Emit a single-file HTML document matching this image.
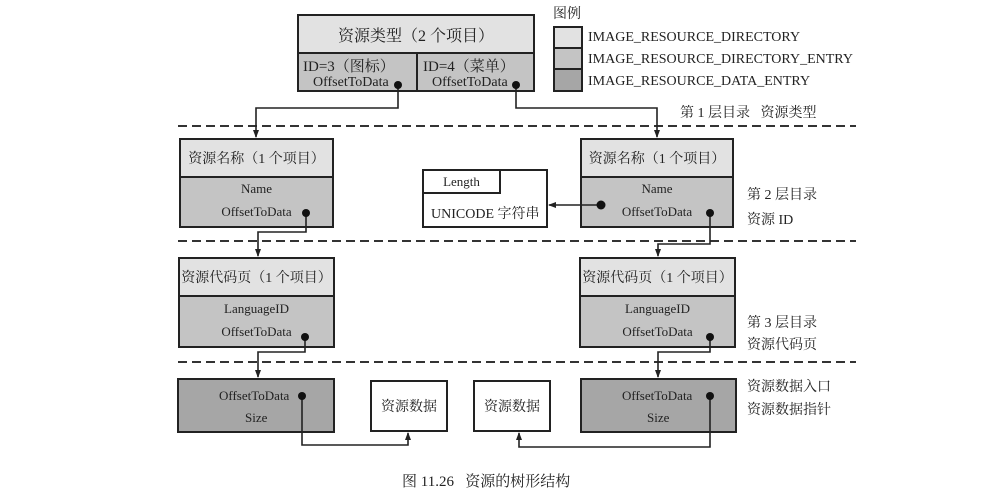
<!DOCTYPE html>
<html><head><meta charset="utf-8"><style>
body{margin:0;background:#fff;}
#c{position:relative;width:1008px;height:500px;overflow:hidden;font-family:"Liberation Serif","Noto Serif CJK SC",serif;color:#222;}
.b{position:absolute;box-sizing:border-box;border:2px solid #222;}
.h{background:#e2e2e2;}
.e{background:#c4c4c4;}
.d{background:#a6a6a6;}
.w{background:#fff;}
.t{position:absolute;white-space:nowrap;}
.cn{display:flex;align-items:center;justify-content:center;font-size:14px;}
</style></head><body><div id="c">
<svg width="1008" height="500" style="position:absolute;left:0;top:0">
<g stroke="#333" stroke-width="2" stroke-dasharray="9,5"><line x1="178" y1="126" x2="856" y2="126"/><line x1="178" y1="241" x2="856" y2="241"/><line x1="178" y1="362" x2="856" y2="362"/></g>
</svg>
<!-- top box -->
<div class="b h cn" style="left:297px;top:14px;width:238px;height:40px;font-size:16px;">资源类型（2 个项目）</div>
<div class="b e" style="left:297px;top:52px;width:121px;height:40px;"></div>
<div class="b e" style="left:416px;top:52px;width:119px;height:40px;"></div>
<div class="t" style="left:303px;top:55px;font-size:15px;">ID=3（图标）</div>
<div class="t" style="left:423px;top:55px;font-size:15px;">ID=4（菜单）</div>
<div class="t" style="left:313px;top:75px;font-size:14px;">OffsetToData</div>
<div class="t" style="left:432px;top:75px;font-size:14px;">OffsetToData</div>
<!-- legend -->
<div class="t" style="left:553px;top:3px;font-size:14px;">图例</div>
<div class="b h" style="left:553px;top:26px;width:30px;height:23px;"></div>
<div class="b e" style="left:553px;top:47px;width:30px;height:23px;"></div>
<div class="b d" style="left:553px;top:68px;width:30px;height:24px;"></div>
<div class="t" style="left:588px;top:30px;font-size:14px;">IMAGE_RESOURCE_DIRECTORY</div>
<div class="t" style="left:588px;top:52px;font-size:14px;">IMAGE_RESOURCE_DIRECTORY_ENTRY</div>
<div class="t" style="left:588px;top:74px;font-size:14px;">IMAGE_RESOURCE_DATA_ENTRY</div>
<!-- layer labels -->
<div class="t" style="left:680px;top:102px;font-size:14px;">第 1 层目录&nbsp;&nbsp;&nbsp;资源类型</div>
<div class="t" style="left:747px;top:184px;font-size:14px;">第 2 层目录</div>
<div class="t" style="left:747px;top:209px;font-size:14px;">资源 ID</div>
<div class="t" style="left:747px;top:312px;font-size:14px;">第 3 层目录</div>
<div class="t" style="left:747px;top:334px;font-size:14px;">资源代码页</div>
<div class="t" style="left:747px;top:376px;font-size:14px;">资源数据入口</div>
<div class="t" style="left:747px;top:399px;font-size:14px;">资源数据指针</div>
<!-- level2 -->
<div class="b h cn" style="left:179px;top:138px;width:155px;height:40px;font-size:14px;">资源名称（1 个项目）</div>
<div class="b e" style="left:179px;top:176px;width:155px;height:52px;"></div>
<div class="t" style="left:179px;top:181px;width:155px;text-align:center;font-size:13px;">Name</div>
<div class="t" style="left:179px;top:204px;width:155px;text-align:center;font-size:13px;">OffsetToData</div>
<div class="b h cn" style="left:580px;top:138px;width:154px;height:40px;font-size:14px;">资源名称（1 个项目）</div>
<div class="b e" style="left:580px;top:176px;width:154px;height:52px;"></div>
<div class="t" style="left:580px;top:181px;width:154px;text-align:center;font-size:13px;">Name</div>
<div class="t" style="left:580px;top:204px;width:154px;text-align:center;font-size:13px;">OffsetToData</div>
<div class="b w" style="left:422px;top:169px;width:126px;height:59px;"></div>
<div class="b w cn" style="left:422px;top:169px;width:79px;height:25px;font-size:13px;">Length</div>
<div class="t" style="left:431px;top:203px;font-size:14px;">UNICODE 字符串</div>
<!-- level3 -->
<div class="b h cn" style="left:178px;top:257px;width:157px;height:40px;font-size:14px;">资源代码页（1 个项目）</div>
<div class="b e" style="left:178px;top:295px;width:157px;height:53px;"></div>
<div class="t" style="left:178px;top:301px;width:157px;text-align:center;font-size:13px;">LanguageID</div>
<div class="t" style="left:178px;top:324px;width:157px;text-align:center;font-size:13px;">OffsetToData</div>
<div class="b h cn" style="left:579px;top:257px;width:157px;height:40px;font-size:14px;">资源代码页（1 个项目）</div>
<div class="b e" style="left:579px;top:295px;width:157px;height:53px;"></div>
<div class="t" style="left:579px;top:301px;width:157px;text-align:center;font-size:13px;">LanguageID</div>
<div class="t" style="left:579px;top:324px;width:157px;text-align:center;font-size:13px;">OffsetToData</div>
<!-- level4 -->
<div class="b d" style="left:177px;top:378px;width:158px;height:55px;"></div>
<div class="t" style="left:219px;top:388px;font-size:13px;">OffsetToData</div>
<div class="t" style="left:245px;top:410px;font-size:13px;">Size</div>
<div class="b w cn" style="left:370px;top:380px;width:78px;height:52px;">资源数据</div>
<div class="b w cn" style="left:473px;top:380px;width:78px;height:52px;">资源数据</div>
<div class="b d" style="left:580px;top:378px;width:157px;height:55px;"></div>
<div class="t" style="left:622px;top:388px;font-size:13px;">OffsetToData</div>
<div class="t" style="left:647px;top:410px;font-size:13px;">Size</div>
<div class="t" style="left:402px;top:470px;font-size:15px;">图 11.26&nbsp;&nbsp;&nbsp;资源的树形结构</div>
<svg width="1008" height="500" style="position:absolute;left:0;top:0">
<defs><marker id="a" markerWidth="8" markerHeight="8" refX="7" refY="4" orient="auto" markerUnits="userSpaceOnUse"><path d="M0,1 L8,4 L0,7 Z" fill="#222"/></marker></defs>
<g stroke="#222" stroke-width="1.6" fill="none" marker-end="url(#a)">
<path d="M398,85 V108 H256 V137"/>
<path d="M516,85 V108 H657 V137"/>
<path d="M306,213 V232 H258 V256"/>
<path d="M710,213 V244 H658 V256"/>
<path d="M601,205 H549"/>
<path d="M305,337 V352 H258 V377"/>
<path d="M710,337 V352 H658 V377"/>
<path d="M302,396 V445 H408 V433"/>
<path d="M710,396 V447 H519 V433"/>
</g>
<g fill="#111">
<circle cx="398" cy="85" r="4"/><circle cx="516" cy="85" r="4"/>
<circle cx="306" cy="213" r="4"/><circle cx="710" cy="213" r="4"/><circle cx="601" cy="205" r="4.5"/>
<circle cx="305" cy="337" r="4"/><circle cx="710" cy="337" r="4"/>
<circle cx="302" cy="396" r="4"/><circle cx="710" cy="396" r="4"/>
</g>
</svg>
</div></body></html>
